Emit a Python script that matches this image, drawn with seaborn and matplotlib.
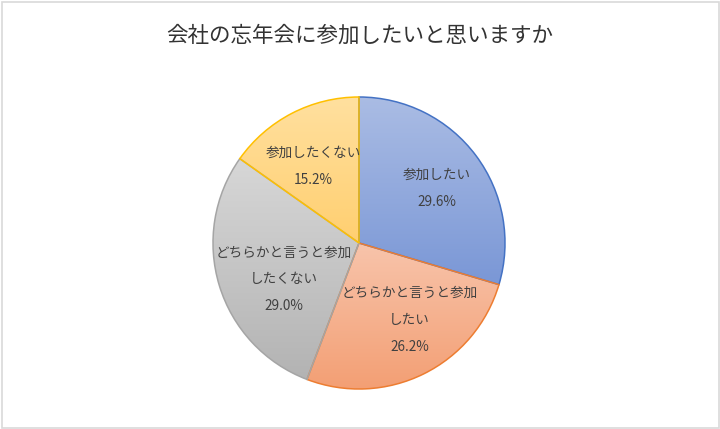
import numpy as np
import matplotlib
matplotlib.use("Agg")
import matplotlib.pyplot as plt
import seaborn as sns
from matplotlib.colors import LinearSegmentedColormap
from matplotlib.patches import Rectangle

# ── Data ──────────────────────────────────────────────
TITLE = "会社の忘年会に参加したいと思いますか"
categories = ["参加したい", "どちらかと言うと参加\nしたい",
              "どちらかと言うと参加\nしたくない", "参加したくない"]
values = [29.6, 26.2, 29.0, 15.2]

# gradient (light -> dark) and outline per slice
light_colors = ["#aabce4", "#f8c4ab", "#d7d7d7", "#ffe09f"]
dark_colors = ["#7a97d6", "#f39f74", "#b3b3b3", "#ffcf70"]
edge_colors = ["#4472c4", "#ed7d31", "#a5a5a5", "#ffc000"]

# label placement (fraction of radius, angular nudge in degrees)
label_dist = [0.65, 0.63, 0.57, 0.61]
label_shift = [-1.5, 7.0, 8.7, 3.5]

sns.set_theme(style="white")
plt.rcParams["font.family"] = ["Noto Sans CJK JP", "DejaVu Sans"]

W, H, DPI = 720, 429, 100
fig = plt.figure(figsize=(W / DPI, H / DPI), dpi=DPI)
fig.patch.set_facecolor("white")

# pie centre at (359, 243) px, radius 146 px
cx, cy, r = 359, 243, 146
ax = fig.add_axes([(cx - r) / W, (H - cy - r) / H, 2 * r / W, 2 * r / H])

wedges, _ = ax.pie(values, startangle=90, counterclock=False, radius=1,
                   wedgeprops=dict(linewidth=1.1))
ax.set_xlim(-1, 1)
ax.set_ylim(-1, 1)
ax.set_aspect("equal")
ax.axis("off")

for w, lc, dc, ec in zip(wedges, light_colors, dark_colors, edge_colors):
    # vertical gradient clipped to each wedge
    x0, y0, x1, y1 = w.get_path().get_extents(w.get_patch_transform()).extents
    cmap = LinearSegmentedColormap.from_list("g", [dc, lc])
    grad = np.linspace(0, 1, 256).reshape(-1, 1)
    im = ax.imshow(grad, cmap=cmap, origin="lower", aspect="auto",
                   extent=[x0, x1, y0, y1], zorder=1)
    im.set_clip_path(w)
    w.set_facecolor("none")
    w.set_edgecolor(ec)
    w.set_zorder(2)

# data labels inside slices
for w, cat, val, d, sh in zip(wedges, categories, values, label_dist, label_shift):
    mid = np.deg2rad((w.theta1 + w.theta2) / 2 + sh)
    ax.text(d * np.cos(mid), d * np.sin(mid), f"{cat}\n{val:.1f}%",
            ha="center", va="center", fontsize=9.8, color="#404040",
            linespacing=2.15, zorder=3)

fig.text(0.5, 1 - 36 / H, TITLE, ha="center", va="center",
         fontsize=15.5, color="#333333")

# chart-area border
fig.patches.append(Rectangle((1.5 / W, 1.5 / H), 1 - 3 / W, 1 - 3 / H,
                             transform=fig.transFigure, fill=False,
                             edgecolor="#d9d9d9", linewidth=1.2))

fig.savefig("out.png", dpi=DPI)
